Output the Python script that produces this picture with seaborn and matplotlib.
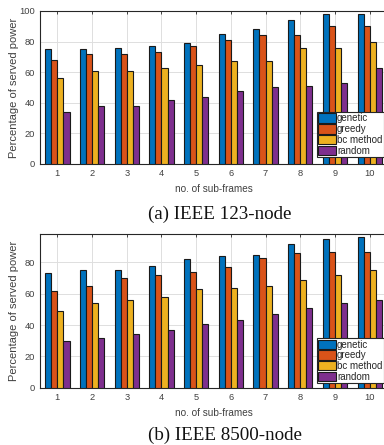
import matplotlib
matplotlib.use("Agg")
import matplotlib.pyplot as plt
import numpy as np
import pandas as pd
import seaborn as sns

frames = ["1", "2", "3", "4", "5", "6", "7", "8", "9", "10"]
methods = ["genetic", "greedy", "bc method", "random"]

# (a) IEEE 123-node
genetic_a = [75, 75, 76, 77, 79, 85, 88, 94, 98, 98]
greedy_a = [68, 72, 72, 73, 77, 81, 84, 84, 90, 90]
bc_a = [56, 61, 61, 63, 65, 67, 67, 76, 76, 80]
random_a = [34, 38, 38, 42, 44, 48, 50, 51, 53, 63]

# (b) IEEE 8500-node
genetic_b = [73, 75, 75, 78, 82, 84, 85, 92, 95, 96]
greedy_b = [62, 65, 70, 72, 74, 77, 83, 86, 87, 87]
bc_b = [49, 54, 56, 58, 63, 64, 65, 69, 72, 75]
random_b = [30, 32, 34, 37, 41, 43, 47, 51, 54, 56]

colors = ["#0072BD", "#D95319", "#EDB120", "#7E2F8E"]


def to_long(series):
    rows = []
    for m, vals in zip(methods, series):
        for f, v in zip(frames, vals):
            rows.append([f, m, v])
    return pd.DataFrame(rows, columns=["frame", "method", "value"])


sns.set_style("white")
plt.rcParams["font.family"] = ["Liberation Sans", "DejaVu Sans"]

fig = plt.figure(figsize=(3.84, 4.45), dpi=100)
ax_a = fig.add_axes([0.1042, 0.6315, 0.9036, 0.3438])
ax_b = fig.add_axes([0.1042, 0.1288, 0.9036, 0.3447])

panels = [
    (ax_a, to_long([genetic_a, greedy_a, bc_a, random_a]), 100, [0, 20, 40, 60, 80, 100], 0.046),
    (ax_b, to_long([genetic_b, greedy_b, bc_b, random_b]), 98, [0, 20, 40, 60, 80], 0.03),
]

for ax, df, ymax, yticks, leg_y in panels:
    sns.barplot(data=df, x="frame", y="value", hue="method", hue_order=methods,
                order=frames, palette=colors, saturation=1, width=0.7, gap=0, ax=ax,
                edgecolor="#1a1a1a", linewidth=0.8, errorbar=None, zorder=3)
    ax.set_xlim(-0.5, 9.5)
    ax.set_ylim(0, ymax)
    ax.set_yticks(yticks)
    ax.set_axisbelow(True)
    ax.grid(True, color="#dedede", linewidth=0.7)
    for s in ax.spines.values():
        s.set_color("#262626")
        s.set_linewidth(0.8)
    ax.tick_params(direction="in", length=2.5, width=0.6, top=True, right=True,
                   labelsize=6.7, colors="#262626", labelcolor="#404040", pad=3.5)
    ax.set_xlabel("no. of sub-frames", fontsize=7.2, color="#404040")
    ax.set_ylabel("Percentage of served power", fontsize=8.0, color="#404040")
    ax.xaxis.set_label_coords(0.5, -0.13)
    ax.yaxis.set_label_coords(-0.0605, 0.5)
    leg = ax.legend(loc="lower right", bbox_to_anchor=(0.99, leg_y), fontsize=7.0,
                    frameon=True, fancybox=False, framealpha=1, edgecolor="#262626",
                    handlelength=1.85, handleheight=1.1, handletextpad=0.1,
                    labelspacing=0.08, borderpad=0.12, borderaxespad=0)
    leg.get_frame().set_linewidth(0.8)
    for t in leg.get_texts():
        t.set_color("#262626")

fig.text(148 / 384, 1 - 219 / 445, "(a) IEEE 123-node", ha="left", va="baseline",
         fontsize=13.7, color="#111111", family=["Liberation Serif", "DejaVu Serif"])
fig.text(148 / 384, 1 - 440 / 445, "(b) IEEE 8500-node", ha="left", va="baseline",
         fontsize=13.7, color="#111111", family=["Liberation Serif", "DejaVu Serif"])

fig.savefig("out.png", dpi=100)
